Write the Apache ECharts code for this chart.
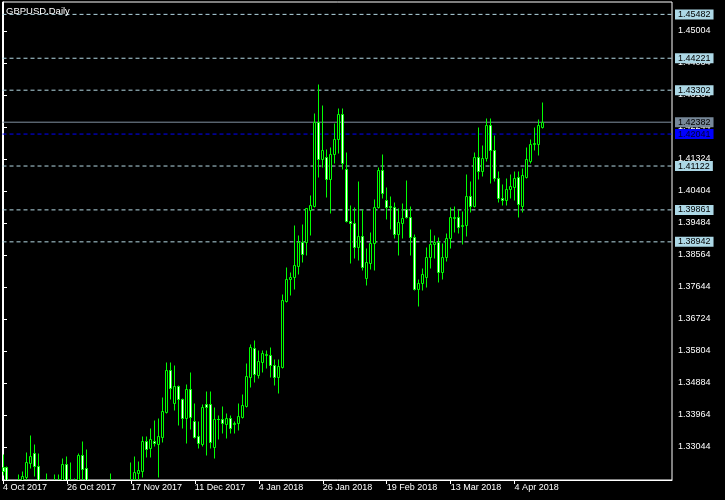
<!DOCTYPE html>
<html>
<head>
<meta charset="utf-8">
<script src="https://cdn.jsdelivr.net/npm/echarts@6/dist/echarts.min.js"></script>
<style>
html,body{margin:0;padding:0;background:#000;}
#chart{width:725px;height:500px;}
</style>
</head>
<body>
<div id="chart"></div>
<script>
// ---- data ----
const symbolTitle = 'GBPUSD.Daily';
const tickIndex = [0, 16, 32, 48, 64, 80, 96, 112, 128];
const tickLabels = ['4 Oct 2017','26 Oct 2017','17 Nov 2017','11 Dec 2017','4 Jan 2018','26 Jan 2018','19 Feb 2018','13 Mar 2018','4 Apr 2018'];
const priceTicks = [1.45004,1.44084,1.43164,1.42244,1.41324,1.40404,1.39484,1.38564,1.37644,1.36724,1.35804,1.34884,1.33964,1.33044];
const levelLines = [1.45482, 1.44221, 1.43302, 1.41122, 1.39861, 1.38942];
const bidLine = 1.42382;
const blueLine = 1.42041;

const opens = [1.3248,1.3248,1.3140,1.3065,1.3150,1.3200,1.3219,1.3259,1.3286,1.3250,
1.3170,1.3190,1.3170,1.3190,1.3180,1.3195,1.3256,1.3145,1.3135,1.3190,
1.3280,1.3243,1.3060,1.3075,1.3160,1.3140,1.3120,1.3130,1.3190,1.3120,
1.3165,1.3190,1.3190,1.3212,1.3230,1.3236,1.3321,1.3301,1.3321,1.3314,
1.3334,1.3406,1.3525,1.3432,1.3480,1.3442,1.3387,1.3470,1.3379,1.3336,
1.3313,1.3428,1.3427,1.3305,1.3384,1.3386,1.3370,1.3387,1.3371,1.3372,
1.3392,1.3422,1.3505,1.3588,1.3511,1.3550,1.3569,1.3569,1.3540,1.3505,
1.3535,1.3725,1.3788,1.3792,1.3826,1.3895,1.3893,1.3986,1.3997,1.4240,
1.4132,1.4139,1.4074,1.4147,1.4189,1.4261,1.4103,1.3955,1.3948,1.3880,
1.3912,1.3790,1.3834,1.3892,1.3994,1.4101,1.4015,1.3996,1.3994,1.3917,
1.3949,1.3989,1.3967,1.3907,1.3759,1.3775,1.3794,1.3850,1.3888,1.3895,
1.3808,1.3850,1.3904,1.3962,1.3965,1.3940,1.3943,1.4026,1.3997,1.4139,
1.4099,1.4134,1.4230,1.4158,1.4077,1.4021,1.4015,1.4045,1.4053,1.4080,
1.3997,1.4080,1.4128,1.4175,1.4176,1.4225];
const highs = [1.3285,1.3251,1.3165,1.3175,1.3227,1.3236,1.3290,1.3339,1.3313,1.3288,
1.3205,1.3231,1.3205,1.3227,1.3227,1.3273,1.3279,1.3261,1.3215,1.3286,
1.3322,1.3299,1.3110,1.3175,1.3195,1.3150,1.3165,1.3231,1.3200,1.3185,
1.3205,1.3205,1.3262,1.3279,1.3264,1.3336,1.3336,1.3360,1.3382,1.3387,
1.3448,1.3549,1.3549,1.3539,1.3483,1.3445,1.3486,1.3520,1.3432,1.3379,
1.3428,1.3465,1.3465,1.3419,1.3396,1.3422,1.3403,1.3396,1.3380,1.3430,
1.3457,1.3545,1.3600,1.3612,1.3583,1.3583,1.3583,1.3593,1.3557,1.3557,
1.3744,1.3821,1.3808,1.3943,1.3914,1.3946,1.3992,1.4029,1.4266,1.4348,
1.4288,1.4160,1.4166,1.4235,1.4278,1.4278,1.4153,1.4000,1.3995,1.4069,
1.3988,1.3877,1.3923,1.4017,1.4109,1.4147,1.4053,1.4026,1.4010,1.3991,
1.4005,1.4072,1.3997,1.3917,1.3787,1.3818,1.3879,1.3930,1.3914,1.3909,
1.3890,1.3919,1.3994,1.3997,1.3988,1.3984,1.4089,1.4070,1.4153,1.4224,
1.4173,1.4249,1.4249,1.4201,1.4099,1.4061,1.4077,1.4089,1.4099,1.4099,
1.4106,1.4168,1.4189,1.4224,1.4247,1.4297];
const lows = [1.3225,1.3120,1.3030,1.3060,1.3130,1.3180,1.3195,1.3243,1.3221,1.3160,
1.3140,1.3120,1.3150,1.3150,1.3155,1.3180,1.3120,1.3100,1.3125,1.3180,
1.3200,1.3040,1.3025,1.3060,1.3110,1.3095,1.3085,1.3110,1.3065,1.3090,
1.3145,1.3160,1.3170,1.3185,1.3205,1.3219,1.3277,1.3277,1.3307,1.3219,
1.3320,1.3403,1.3442,1.3411,1.3368,1.3358,1.3317,1.3355,1.3329,1.3301,
1.3307,1.3281,1.3301,1.3272,1.3327,1.3345,1.3331,1.3346,1.3346,1.3353,
1.3387,1.3420,1.3476,1.3492,1.3502,1.3521,1.3531,1.3505,1.3483,1.3459,
1.3531,1.3722,1.3741,1.3758,1.3802,1.3837,1.3856,1.3914,1.3995,1.4082,
1.4109,1.4024,1.3978,1.4122,1.4151,1.4103,1.3952,1.3834,1.3847,1.3842,
1.3813,1.3770,1.3815,1.3813,1.3991,1.4019,1.3959,1.3930,1.3904,1.3856,
1.3904,1.3962,1.3856,1.3756,1.3710,1.3756,1.3765,1.3818,1.3847,1.3780,
1.3787,1.3840,1.3876,1.3923,1.3921,1.3888,1.3911,1.3981,1.3995,1.4074,
1.4084,1.4128,1.4064,1.4070,1.4010,1.4000,1.4000,1.4019,1.4015,1.3967,
1.3981,1.4077,1.4120,1.4158,1.4144,1.4221];
const closes = [1.3234,1.3140,1.3065,1.3150,1.3195,1.3221,1.3261,1.3279,1.3250,1.3170,
1.3190,1.3170,1.3195,1.3180,1.3200,1.3256,1.3140,1.3135,1.3190,1.3280,
1.3240,1.3060,1.3075,1.3160,1.3140,1.3120,1.3130,1.3190,1.3120,1.3165,
1.3190,1.3195,1.3208,1.3232,1.3237,1.3321,1.3299,1.3327,1.3315,1.3336,
1.3408,1.3525,1.3473,1.3480,1.3442,1.3387,1.3470,1.3392,1.3334,1.3315,
1.3419,1.3419,1.3318,1.3384,1.3386,1.3374,1.3387,1.3358,1.3373,1.3393,
1.3425,1.3508,1.3593,1.3514,1.3552,1.3574,1.3573,1.3540,1.3505,1.3537,
1.3727,1.3787,1.3794,1.3828,1.3895,1.3858,1.3991,1.4000,1.4240,1.4132,
1.4158,1.4074,1.4147,1.4189,1.4261,1.4120,1.3955,1.3948,1.3880,1.3912,
1.3823,1.3837,1.3892,1.3994,1.4101,1.4034,1.3995,1.3993,1.3917,1.3952,
1.3962,1.3967,1.3907,1.3759,1.3775,1.3801,1.3850,1.3888,1.3893,1.3808,
1.3852,1.3904,1.3965,1.3966,1.3938,1.3942,1.4026,1.3997,1.4139,1.4099,
1.4134,1.4230,1.4158,1.4077,1.4019,1.4015,1.4045,1.4055,1.4077,1.4003,
1.4086,1.4132,1.4176,1.4178,1.4230,1.4238];

// ---- build ----
const ohlc = opens.map((o, i) => [i, o, highs[i], lows[i], closes[i]]);
const FONT = '"Liberation Sans", Arial, sans-serif';
const Y_MIN = 1.320953, Y_MAX = 1.458378;
const X_MIN = -0.125, X_MAX = 167.375;

function renderCandle(params, api) {
  const k = api.value(0);
  const o = api.value(1), h = api.value(2), l = api.value(3), c = api.value(4);
  const pO = api.coord([k, o]), pH = api.coord([k, h]), pL = api.coord([k, l]), pC = api.coord([k, c]);
  const cx = Math.floor(pO[0]) + 0.5;
  const yH = Math.round(pH[1]) + 0.5, yL = Math.round(pL[1]) + 0.5;
  const yO = Math.round(pO[1]) + 0.5, yC = Math.round(pC[1]) + 0.5;
  const top = Math.min(yO, yC), bot = Math.max(yO, yC);
  const bull = c >= o;
  const children = [{
    type: 'line',
    shape: {x1: cx, y1: yH, x2: cx, y2: yL},
    style: {stroke: '#00ff00', lineWidth: 1}
  }];
  if (bot - top < 1) {
    children.push({type: 'line', shape: {x1: cx - 1.5, y1: top, x2: cx + 1.5, y2: top}, style: {stroke: '#00ff00', lineWidth: 1}});
  } else {
    children.push({
      type: 'rect',
      shape: {x: cx - 1, y: top, width: 2, height: bot - top},
      style: {fill: bull ? '#000000' : '#ffffff', stroke: '#00ff00', lineWidth: 1}
    });
  }
  return {type: 'group', children: children};
}

function levelSeries(v, lineColor, boxColor, textColor, dashed) {
  return {
    type: 'line',
    xAxisIndex: 0, yAxisIndex: 0,
    data: [[X_MIN, v], [X_MAX, v]],
    symbol: 'none', silent: true, z: 1,
    lineStyle: {color: lineColor, type: dashed ? [4, 3] : 'solid', width: 1},
    endLabel: {
      show: true, distance: 3,
      formatter: () => v.toFixed(5),
      backgroundColor: boxColor, color: textColor,
      fontFamily: FONT, fontSize: 9, lineHeight: 10, padding: [0, 3, 0, 3]
    }
  };
}

const levelSeriesList = levelLines.map(v => levelSeries(v, '#b4d9e4', '#add8e6', '#000000', true));
levelSeriesList.push(levelSeries(bidLine, '#8090a0', '#778899', '#000000', false));
levelSeriesList.push(levelSeries(blueLine, '#0000ff', '#0000ff', '#000030', true));

const chart = echarts.init(document.getElementById('chart'), null, {renderer: 'canvas'});
chart.setOption({
  backgroundColor: '#000000',
  animation: false,
  title: {
    text: symbolTitle, left: 6, top: 6, padding: 0,
    textStyle: {color: '#ffffff', fontSize: 9.5, fontWeight: 'normal', fontFamily: FONT}
  },
  grid: {left: 2, right: 53, top: 2, bottom: 20, containLabel: false,
         show: true, borderColor: '#ffffff', borderWidth: 1, backgroundColor: 'transparent'},
  xAxis: {
    type: 'value', min: X_MIN, max: X_MAX, position: 'bottom',
    axisLine: {show: true, lineStyle: {color: '#ffffff', width: 1}},
    axisTick: {show: true, length: 4, customValues: tickIndex, lineStyle: {color: '#ffffff'}},
    axisLabel: {
      show: true, customValues: tickIndex, align: 'left', margin: 3,
      color: '#ffffff', fontFamily: FONT, fontSize: 9,
      formatter: v => tickLabels[tickIndex.indexOf(Math.round(v))] || ''
    },
    splitLine: {show: false}
  },
  yAxis: {
    type: 'value', min: Y_MIN, max: Y_MAX, position: 'right',
    axisLine: {show: true, lineStyle: {color: '#ffffff', width: 1}},
    axisTick: {show: true, length: 4, customValues: priceTicks, lineStyle: {color: '#ffffff'}},
    axisLabel: {
      show: true, customValues: priceTicks, margin: 6, hideOverlap: false,
      color: '#ffffff', fontFamily: FONT, fontSize: 9,
      formatter: v => v.toFixed(5)
    },
    splitLine: {show: false}
  },
  series: levelSeriesList.concat([{
    type: 'custom',
    name: 'GBPUSD',
    xAxisIndex: 0, yAxisIndex: 0,
    clip: true, z: 3,
    renderItem: renderCandle,
    encode: {x: 0, y: [1, 2, 3, 4]},
    data: ohlc,
    silent: true
  }])
});
</script>
</body>
</html>
